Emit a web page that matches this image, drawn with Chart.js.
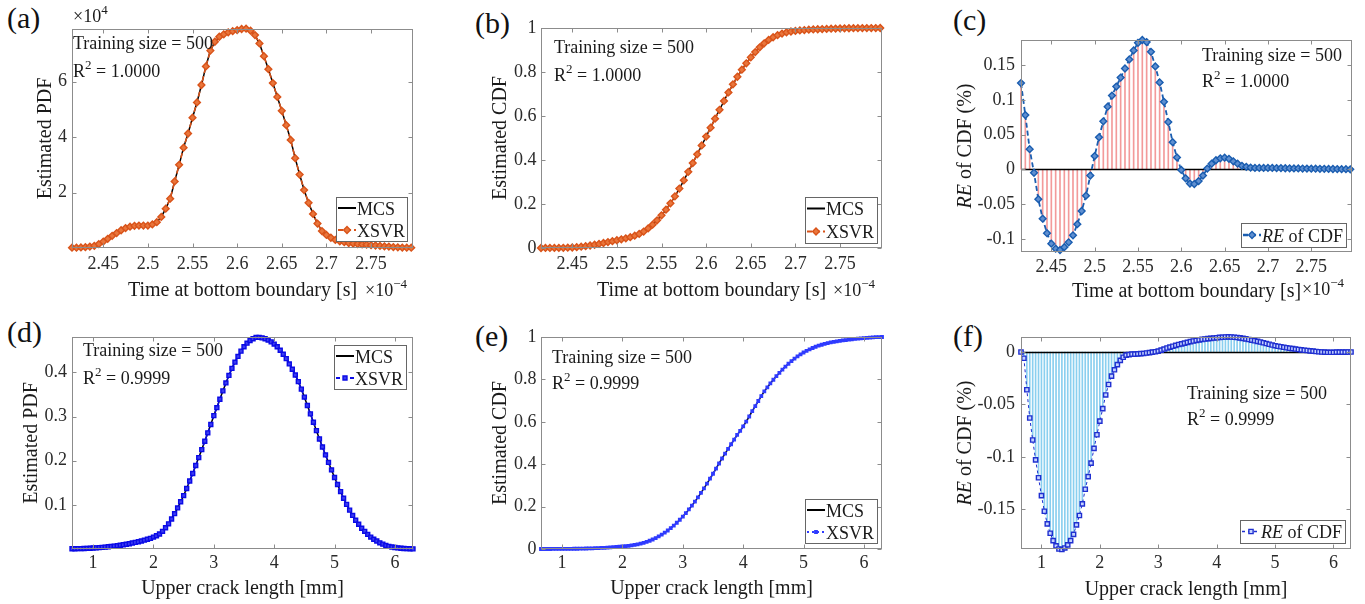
<!DOCTYPE html>
<html>
<head>
<meta charset="utf-8">
<script src="https://cdn.jsdelivr.net/npm/chart.js@4.4.1/dist/chart.umd.min.js"></script>
<style>
  html, body { margin: 0; padding: 0; background: #fff; width: 1365px; height: 604px; overflow: hidden; position: relative; }
  canvas { position: absolute; }
  .tag { position: absolute; font: 30px/1 'Liberation Serif', 'Times New Roman', serif; color: #111; }
</style>
</head>
<body>
<div class="tag" style="left:7px;top:3px">(a)</div>
<div class="tag" style="left:475px;top:8px">(b)</div>
<div class="tag" style="left:953px;top:5px">(c)</div>
<div class="tag" style="left:7px;top:317px">(d)</div>
<div class="tag" style="left:475px;top:321px">(e)</div>
<div class="tag" style="left:953px;top:321px">(f)</div>
<script>
// Time at bottom boundary, x 1e-4 s
const timeX = [2.415,2.42,2.425,2.43,2.435,2.44,2.445,2.45,2.455,2.46,
  2.465,2.47,2.475,2.48,2.485,2.49,2.495,2.5,2.505,2.51,
  2.515,2.52,2.525,2.53,2.535,2.54,2.545,2.55,2.555,2.56,
  2.565,2.57,2.575,2.58,2.585,2.59,2.595,2.6,2.605,2.61,
  2.615,2.62,2.625,2.63,2.635,2.64,2.645,2.65,2.655,2.66,
  2.665,2.67,2.675,2.68,2.685,2.69,2.695,2.7,2.705,2.71,
  2.715,2.72,2.725,2.73,2.735,2.74,2.745,2.75,2.755,2.76,
  2.765,2.77,2.775,2.78,2.785,2.79,2.795];

// estimated PDF, x 1e4
const pdfTimeMcs = [0.01,0.01,0.02,0.03,0.05,0.08,0.14,0.23,0.33,0.44,
  0.54,0.64,0.72,0.77,0.80,0.81,0.81,0.81,0.85,0.93,
  1.12,1.42,1.78,2.40,3.00,3.62,4.13,4.70,5.25,5.88,
  6.55,7.12,7.44,7.62,7.71,7.78,7.82,7.86,7.90,7.91,
  7.84,7.68,7.38,6.92,6.45,5.95,5.45,4.95,4.43,3.90,
  3.24,2.65,2.09,1.63,1.23,0.88,0.61,0.47,0.37,0.29,
  0.24,0.21,0.18,0.16,0.14,0.13,0.12,0.10,0.09,0.075,
  0.06,0.05,0.035,0.025,0.015,0.01,0.01];
// XSVR lies on MCS within the line width (R^2 = 1.0000)
const pdfTimeXsvr = pdfTimeMcs;

const cdfTimeMcs = [0.0000,0.0001,0.0001,0.0003,0.0005,0.0008,0.0014,0.0023,0.0038,0.0058,
  0.0083,0.0113,0.0148,0.0187,0.0227,0.0268,0.0310,0.0352,0.0395,0.0441,
  0.0493,0.0559,0.0641,0.0749,0.0888,0.1059,0.1258,0.1486,0.1742,0.2029,
  0.2349,0.2701,0.3076,0.3464,0.3859,0.4258,0.4660,0.5064,0.5470,0.5877,
  0.6283,0.6683,0.7071,0.7440,0.7784,0.8103,0.8397,0.8665,0.8907,0.9121,
  0.9305,0.9457,0.9579,0.9675,0.9749,0.9803,0.9841,0.9869,0.9891,0.9908,
  0.9922,0.9933,0.9943,0.9952,0.9960,0.9967,0.9973,0.9979,0.9984,0.9988,
  0.9991,0.9994,0.9996,0.9998,0.9999,0.9999,1.0000];
const cdfTimeXsvr = cdfTimeMcs;

// relative error of CDF, %
const reTime = [0.124,0.078,0.029,-0.005,-0.043,-0.071,-0.092,-0.107,-0.1143,-0.1162,
  -0.112,-0.105,-0.095,-0.079,-0.060,-0.038,-0.009,0.019,0.046,0.069,
  0.090,0.106,0.119,0.132,0.145,0.158,0.171,0.182,0.186,0.183,
  0.169,0.148,0.125,0.097,0.068,0.039,0.017,-0.001,-0.013,-0.0205,
  -0.0212,-0.017,-0.009,0.001,0.008,0.013,0.0158,0.0167,0.015,0.0115,
  0.008,0.005,0.0035,0.0025,0.002,0.002,0.002,0.002,0.002,0.0018,
  0.0017,0.0015,0.0014,0.0013,0.0012,0.0011,0.001,0.0009,0.0008,0.0007,
  0.0006,0.0005,0.0004,0.0003,0.0002,0.0001,0.0];

// Upper crack length, mm
const crackX = [0.65,0.7,0.75,0.8,0.85,0.9,0.95,1,1.05,1.1,
  1.15,1.2,1.25,1.3,1.35,1.4,1.45,1.5,1.55,1.6,
  1.65,1.7,1.75,1.8,1.85,1.9,1.95,2,2.05,2.1,
  2.15,2.2,2.25,2.3,2.35,2.4,2.45,2.5,2.55,2.6,
  2.65,2.7,2.75,2.8,2.85,2.9,2.95,3,3.05,3.1,
  3.15,3.2,3.25,3.3,3.35,3.4,3.45,3.5,3.55,3.6,
  3.65,3.7,3.75,3.8,3.85,3.9,3.95,4,4.05,4.1,
  4.15,4.2,4.25,4.3,4.35,4.4,4.45,4.5,4.55,4.6,
  4.65,4.7,4.75,4.8,4.85,4.9,4.95,5,5.05,5.1,
  5.15,5.2,5.25,5.3,5.35,5.4,5.45,5.5,5.55,5.6,
  5.65,5.7,5.75,5.8,5.85,5.9,5.95,6,6.05,6.1,
  6.15,6.2,6.25,6.3];

const pdfCrackMcs = [0.0005,0.0006,0.0008,0.001,0.0012,0.0015,0.0018,0.0022,0.0026,0.0031,
  0.0037,0.0043,0.005,0.0058,0.0066,0.0075,0.0085,0.0095,0.0108,0.012,
  0.0135,0.015,0.0165,0.018,0.02,0.022,0.024,0.027,0.03,0.034,
  0.04,0.048,0.057,0.068,0.08,0.093,0.107,0.121,0.137,0.154,
  0.171,0.189,0.207,0.225,0.244,0.263,0.282,0.302,0.32,0.339,
  0.358,0.376,0.393,0.409,0.423,0.436,0.448,0.458,0.466,0.472,
  0.476,0.479,0.479,0.478,0.476,0.473,0.469,0.464,0.458,0.45,
  0.441,0.431,0.419,0.407,0.394,0.379,0.362,0.344,0.325,0.306,
  0.287,0.268,0.249,0.231,0.213,0.196,0.179,0.162,0.146,0.13,
  0.115,0.101,0.088,0.076,0.065,0.056,0.047,0.04,0.033,0.027,
  0.022,0.018,0.014,0.011,0.008,0.006,0.0045,0.0033,0.0024,0.0017,
  0.0012,0.0008,0.0005,0.0003];
const pdfCrackXsvr = pdfCrackMcs;

const cdfCrackMcs = [0,0,0.0001,0.0001,0.0002,0.0002,0.0003,0.0004,0.0006,0.0007,
  0.0009,0.0011,0.0013,0.0016,0.0019,0.0023,0.0027,0.0032,0.0037,0.0044,
  0.005,0.0057,0.0065,0.0075,0.0084,0.0096,0.0107,0.0121,0.0135,0.0152,
  0.0172,0.0194,0.0221,0.0254,0.0292,0.0338,0.039,0.0449,0.0516,0.0591,
  0.0676,0.0769,0.0872,0.0984,0.1106,0.1238,0.1379,0.1531,0.1693,0.1865,
  0.2046,0.2237,0.2437,0.2646,0.2862,0.3085,0.3315,0.355,0.379,0.4034,
  0.427,0.450,0.472,0.494,0.516,0.538,0.557,0.578,0.601,0.625,
  0.650,0.674,0.698,0.7215,0.7433,0.7624,0.7808,0.7984,0.8152,0.8312,
  0.8463,0.8605,0.8738,0.8862,0.8977,0.9083,0.918,0.9268,0.9347,0.9418,
  0.9482,0.9539,0.959,0.9635,0.9675,0.9711,0.9743,0.9771,0.9796,0.9818,
  0.9837,0.9856,0.9874,0.9891,0.9907,0.9922,0.9936,0.9949,0.9961,0.9972,
  0.9982,0.9991,0.9996,1];
const cdfCrackXsvr = cdfCrackMcs;

const reCrack = [0,-0.006,-0.036,-0.063,-0.084,-0.103,-0.12,-0.137,-0.152,-0.164,
  -0.173,-0.18,-0.185,-0.188,-0.1885,-0.187,-0.184,-0.18,-0.174,-0.165,
  -0.156,-0.145,-0.131,-0.119,-0.106,-0.092,-0.079,-0.066,-0.054,-0.041,
  -0.031,-0.023,-0.017,-0.012,-0.008,-0.005,-0.003,-0.0025,-0.002,-0.002,
  -0.0018,-0.0016,-0.0014,-0.001,-0.0006,-0.0002,0.0002,0.0008,0.0018,0.0028,
  0.0038,0.0047,0.0055,0.0063,0.0071,0.0078,0.0085,0.0092,0.0099,0.0105,
  0.0111,0.0116,0.012,0.0124,0.0127,0.013,0.0133,0.0136,0.0139,0.0141,
  0.0143,0.0144,0.0143,0.0141,0.0138,0.0134,0.013,0.0125,0.0119,0.0113,
  0.0107,0.0101,0.0095,0.0088,0.0081,0.0074,0.0067,0.006,0.0055,0.005,
  0.0045,0.004,0.0036,0.0032,0.0028,0.0024,0.002,0.0017,0.0014,0.0011,
  0.0008,0.0005,0.0002,0,-0.0002,-0.0003,-0.0003,-0.0003,-0.0002,-0.0002,
  -0.0001,-0.0001,0,0];

// tick values
const timeTicks = [2.45, 2.5, 2.55, 2.6, 2.65, 2.7, 2.75];
const crackTicks = [1, 2, 3, 4, 5, 6];
const pdfTimeTicks = [2, 4, 6];
const cdfTicks = [0, 0.2, 0.4, 0.6, 0.8, 1];
const reTimeTicks = [-0.1, -0.05, 0, 0.05, 0.1, 0.15];
const pdfCrackTicks = [0.1, 0.2, 0.3, 0.4];
const reCrackTicks = [-0.15, -0.1, -0.05, 0];

const FONT = "'Liberation Serif', 'Times New Roman', serif";
Chart.defaults.font.family = FONT;

function pts(xs, ys) { return xs.map((x, i) => ({ x: x, y: ys[i] })); }
function fmt(v) { return String(Math.round(v * 10000) / 10000); }

// text made of pieces: {t, it: italic, sup: superscript}
function drawRich(ctx, segs, x, y, size, align) {
  const parts = segs.map(s => {
    const fs = s.sup ? Math.round(size * 0.72) : size;
    const font = (s.it ? 'italic ' : '') + fs + 'px ' + FONT;
    ctx.font = font;
    return { s: s, font: font, w: ctx.measureText(s.t).width };
  });
  const total = parts.reduce((a, p) => a + p.w, 0);
  let cx = align === 'center' ? x - total / 2 : x;
  ctx.textAlign = 'left';
  parts.forEach(p => {
    ctx.font = p.font;
    ctx.fillText(p.s.t, cx, y - (p.s.sup ? size * 0.45 : 0));
    cx += p.w;
  });
}

function lineSet(label, ys, xs, color, width, dash, style, radius, fill, order) {
  return {
    label: label, data: pts(xs, ys), borderColor: color, borderWidth: width, borderDash: dash,
    pointStyle: style, pointRadius: radius, pointBorderColor: color, pointBackgroundColor: fill,
    pointBorderWidth: 1.4, tension: 0, fill: false, order: order, clip: 6
  };
}
function stemSet(ys, xs, color) {
  return { type: 'bar', label: 'stem', data: pts(xs, ys), backgroundColor: color,
    barThickness: 1, borderWidth: 0, order: 3, clip: 6 };
}

// box, inside ticks, zero line, notes and legend
const decor = {
  id: 'decor',
  afterDatasetDraw(chart, args) {
    if (args.meta.type !== 'bar') return;
    const ctx = chart.ctx, a = chart.chartArea;
    const y0 = Math.round(chart.scales.y.getPixelForValue(0)) + 0.5;
    ctx.save();
    ctx.strokeStyle = '#000';
    ctx.lineWidth = 1.3;
    ctx.beginPath(); ctx.moveTo(a.left, y0); ctx.lineTo(a.right, y0); ctx.stroke();
    ctx.restore();
  },
  afterDatasetsDraw(chart) {
    const ctx = chart.ctx, a = chart.chartArea, sx = chart.scales.x, sy = chart.scales.y;
    const l = Math.round(a.left) + 0.5, r = Math.round(a.right) - 0.5;
    const t = Math.round(a.top) + 0.5, b = Math.round(a.bottom) - 0.5;
    ctx.save();
    ctx.strokeStyle = '#8c8c8c';
    ctx.lineWidth = 1;
    ctx.strokeRect(l, t, r - l, b - t);
    ctx.beginPath();
    sx.ticks.forEach(tk => {
      const x = Math.round(sx.getPixelForValue(tk.value)) + 0.5;
      ctx.moveTo(x, b); ctx.lineTo(x, b - 4);
      ctx.moveTo(x, t); ctx.lineTo(x, t + 4);
    });
    sy.ticks.forEach(tk => {
      const y = Math.round(sy.getPixelForValue(tk.value)) + 0.5;
      ctx.moveTo(l, y); ctx.lineTo(l + 4, y);
      ctx.moveTo(r, y); ctx.lineTo(r - 4, y);
    });
    ctx.stroke();
    ctx.restore();
  },
  afterDraw(chart, args, o) {
    const ctx = chart.ctx;
    ctx.save();
    ctx.fillStyle = '#1a1a1a';
    if (o.yTitle) {
      const s = chart.scales.y;
      ctx.translate(s.left + 10, (s.top + s.bottom) / 2);
      ctx.rotate(-Math.PI / 2);
      ctx.textBaseline = 'middle';
      drawRich(ctx, o.yTitle, 0, 0, 20, 'center');
    }
    ctx.restore();

    ctx.save();
    ctx.translate(-o.ox, -o.oy);
    ctx.textBaseline = 'alphabetic';
    ctx.fillStyle = '#1a1a1a';
    (o.notes || []).forEach(n => drawRich(ctx, n.segs, n.x, n.y, 18, 'left'));
    if (o.legend) {
      const [x1, y1, x2, y2] = o.legend.box;
      ctx.fillStyle = '#fff';
      ctx.fillRect(x1, y1, x2 - x1, y2 - y1);
      ctx.strokeStyle = '#666';
      ctx.lineWidth = 1;
      ctx.strokeRect(Math.round(x1) + 0.5, Math.round(y1) + 0.5, Math.round(x2 - x1), Math.round(y2 - y1));
      const rh = (y2 - y1) / o.legend.items.length;
      o.legend.items.forEach((it, i) => {
        const ds = chart.data.datasets[it.ds];
        const cy = y1 + rh * (i + 0.5);
        ctx.save();
        ctx.strokeStyle = ds.borderColor;
        ctx.lineWidth = ds.borderWidth + 0.5;
        ctx.setLineDash(ds.borderDash || []);
        ctx.beginPath(); ctx.moveTo(x1 + 2, cy); ctx.lineTo(x1 + 20, cy); ctx.stroke();
        ctx.setLineDash([]);
        if (ds.pointRadius) {
          ctx.fillStyle = ds.pointBackgroundColor;
          ctx.strokeStyle = ds.pointBorderColor;
          ctx.lineWidth = ds.pointBorderWidth;
          Chart.helpers.drawPoint(ctx, { pointStyle: ds.pointStyle, radius: ds.pointRadius, rotation: 0, borderWidth: ds.pointBorderWidth }, x1 + 11, cy);
        }
        ctx.restore();
        ctx.fillStyle = '#1a1a1a';
        drawRich(ctx, it.segs || [{ t: ds.label }], x1 + 21, cy + 6.5, 18, 'left');
      });
    }
    ctx.restore();
  }
};

const orange = '#D95319', orangeFill = '#E9763C';
const timeTitle = 'Time at bottom boundary [s]';
const crackTitle = 'Upper crack length [mm]';
const reTitle = [{ t: 'RE', it: true }, { t: ' of CDF (%)' }];
const expoTop = [{ t: '\u00d710' }, { t: '4', sup: true }];
const expoBottom = [{ t: '\u00d710' }, { t: '\u22124', sup: true }];
const trainText = [{ t: 'Training size = 500' }];
const r2One = [{ t: 'R' }, { t: '2', sup: true }, { t: ' = 1.0000' }];
const r2Nine = [{ t: 'R' }, { t: '2', sup: true }, { t: ' = 0.9999' }];

const panels = [
  { L: 72, R: 413, T: 29, B: 248, yTitleX: 46, xTitleY: 291, xPad: 5.5, yPad: 5,
    xMin: 2.415, xMax: 2.797, yMin: 0, yMax: 7.9, xTicks: timeTicks, yTicks: pdfTimeTicks,
    yTitle: 'Estimated PDF', xTitle: timeTitle,
    datasets: [
      lineSet('XSVR', pdfTimeXsvr, timeX, orange, 1.6, [5, 3], 'rectRot', 3.4, orangeFill, 1),
      lineSet('MCS', pdfTimeMcs, timeX, '#000', 1.5, [], 'circle', 0, '#000', 2)],
    notes: [{ x: 73, y: 49, segs: trainText }, { x: 73, y: 77, segs: r2One },
      { x: 73, y: 22, segs: expoTop }, { x: 365, y: 296, segs: expoBottom }],
    legend: { box: [336, 197, 407, 241], items: [{ ds: 1 }, { ds: 0 }] } },
  { L: 541, R: 882, T: 28, B: 248, yTitleX: 501, xTitleY: 291, xPad: 5.5, yPad: 4.5,
    xMin: 2.415, xMax: 2.797, yMin: 0, yMax: 1, xTicks: timeTicks, yTicks: cdfTicks,
    yTitle: 'Estimated CDF', xTitle: timeTitle,
    datasets: [
      lineSet('XSVR', cdfTimeXsvr, timeX, orange, 1.6, [5, 3], 'rectRot', 3.4, orangeFill, 1),
      lineSet('MCS', cdfTimeMcs, timeX, '#000', 1.5, [], 'circle', 0, '#000', 2)],
    notes: [{ x: 554, y: 53, segs: trainText }, { x: 554, y: 81, segs: r2One },
      { x: 833, y: 296, segs: expoBottom }],
    legend: { box: [805, 197, 877, 243], items: [{ ds: 1 }, { ds: 0 }] } },
  { L: 1021, R: 1352, T: 40, B: 252, yTitleX: 966, xTitleY: 291.5, xPad: 4, yPad: 6,
    xMin: 2.415, xMax: 2.797, yMin: -0.119, yMax: 0.186, xTicks: timeTicks, yTicks: reTimeTicks,
    yTitle: reTitle, xTitle: timeTitle,
    datasets: [
      lineSet('RE of CDF', reTime, timeX, '#1A5DB0', 1.8, [5, 3], 'rectRot', 3.4, '#5F8FD0', 1),
      stemSet(reTime, timeX, '#F39A9A')],
    notes: [{ x: 1202, y: 61, segs: trainText }, { x: 1202, y: 87, segs: r2One },
      { x: 1302, y: 295, segs: expoBottom }],
    legend: { box: [1241, 223, 1346, 247], items: [{ ds: 0, segs: [{ t: 'RE', it: true }, { t: ' of CDF' }] }] } },
  { L: 72, R: 413, T: 337, B: 549, yTitleX: 32, xTitleY: 588.6, xPad: 3.5, yPad: 5,
    xMin: 0.65, xMax: 6.3, yMin: 0, yMax: 0.48, xTicks: crackTicks, yTicks: pdfCrackTicks,
    yTitle: 'Estimated PDF', xTitle: crackTitle,
    datasets: [
      lineSet('XSVR', pdfCrackXsvr, crackX, '#0A0AE6', 1.5, [4, 3], 'rect', 2.8, '#3C3CF0', 1),
      lineSet('MCS', pdfCrackMcs, crackX, '#000', 1.5, [], 'circle', 0, '#000', 2)],
    notes: [{ x: 83, y: 356, segs: trainText }, { x: 83, y: 384, segs: r2Nine }],
    legend: { box: [334, 345, 406, 389], items: [{ ds: 1 }, { ds: 0 }] } },
  { L: 541, R: 882, T: 337, B: 549, yTitleX: 501, xTitleY: 588.6, xPad: 3.5, yPad: 4.5,
    xMin: 0.65, xMax: 6.3, yMin: 0, yMax: 1, xTicks: crackTicks, yTicks: cdfTicks,
    yTitle: 'Estimated CDF', xTitle: crackTitle,
    datasets: [
      lineSet('XSVR', cdfCrackXsvr, crackX, '#2F3BFF', 1.5, [2, 3], 'rect', 1.7, '#2F3BFF', 1),
      lineSet('MCS', cdfCrackMcs, crackX, '#000', 1.5, [], 'circle', 0, '#000', 2)],
    notes: [{ x: 552, y: 363, segs: trainText }, { x: 552, y: 389, segs: r2Nine }],
    legend: { box: [805, 499, 877, 543], items: [{ ds: 1 }, { ds: 0 }] } },
  { L: 1021, R: 1351, T: 337, B: 549, yTitleX: 966, xTitleY: 590, xPad: 3.5, yPad: 6,
    xMin: 0.65, xMax: 6.3, yMin: -0.188, yMax: 0.0143, xTicks: crackTicks, yTicks: reCrackTicks,
    yTitle: reTitle, xTitle: crackTitle,
    datasets: [
      lineSet('RE of CDF', reCrack, crackX, '#1F2FD0', 1, [3, 3], 'rect', 3, '#C4D2FF', 1),
      stemSet(reCrack, crackX, '#8ACFEF')],
    notes: [{ x: 1187, y: 399, segs: trainText }, { x: 1187, y: 425, segs: r2Nine }],
    legend: { box: [1240, 520, 1345, 543], items: [{ ds: 0, segs: [{ t: 'RE', it: true }, { t: ' of CDF' }] }] } }
];

panels.forEach(p => {
  const cl = p.yTitleX - 10, ct = p.T - 30, cr = p.R + 45, cb = Math.round(p.xTitleY + 14);
  const cv = document.createElement('canvas');
  cv.width = cr - cl; cv.height = cb - ct;
  cv.style.left = cl + 'px'; cv.style.top = ct + 'px';
  cv.style.width = (cr - cl) + 'px'; cv.style.height = (cb - ct) + 'px';
  document.body.appendChild(cv);
  const plainY = typeof p.yTitle === 'string';

  new Chart(cv.getContext('2d'), {
    type: 'line',
    data: { datasets: p.datasets },
    options: {
      responsive: false, animation: false, devicePixelRatio: 1, events: [],
      layout: { padding: { left: 0, top: 30, right: 45, bottom: 0 } },
      plugins: {
        legend: { display: false }, tooltip: { enabled: false },
        decor: { ox: cl, oy: ct, notes: p.notes, legend: p.legend, yTitle: plainY ? null : p.yTitle }
      },
      scales: {
        x: {
          type: 'linear', min: p.xMin, max: p.xMax, offset: false,
          grid: { display: false, drawTicks: false }, border: { display: false },
          afterBuildTicks: s => { s.ticks = p.xTicks.map(v => ({ value: v })); },
          afterFit: s => { s.height = cb - p.B; },
          ticks: { autoSkip: false, maxRotation: 0, padding: p.xPad, color: '#2a2a2a', font: { size: 18 }, callback: fmt },
          title: { display: true, text: p.xTitle, color: '#1a1a1a', font: { size: 20, lineHeight: 1 }, padding: { top: 0, bottom: 4 } }
        },
        y: {
          type: 'linear', min: p.yMin, max: p.yMax,
          grid: { display: false, drawTicks: false }, border: { display: false },
          afterBuildTicks: s => { s.ticks = p.yTicks.map(v => ({ value: v })); },
          afterFit: s => { s.width = p.L - cl; },
          ticks: { autoSkip: false, padding: p.yPad, color: '#2a2a2a', font: { size: 18 }, callback: fmt },
          title: { display: plainY, text: plainY ? p.yTitle : '', color: '#1a1a1a', font: { size: 20, lineHeight: 1 }, padding: { top: 0, bottom: 0 } }
        }
      }
    },
    plugins: [decor]
  });
});
</script>
</body>
</html>
